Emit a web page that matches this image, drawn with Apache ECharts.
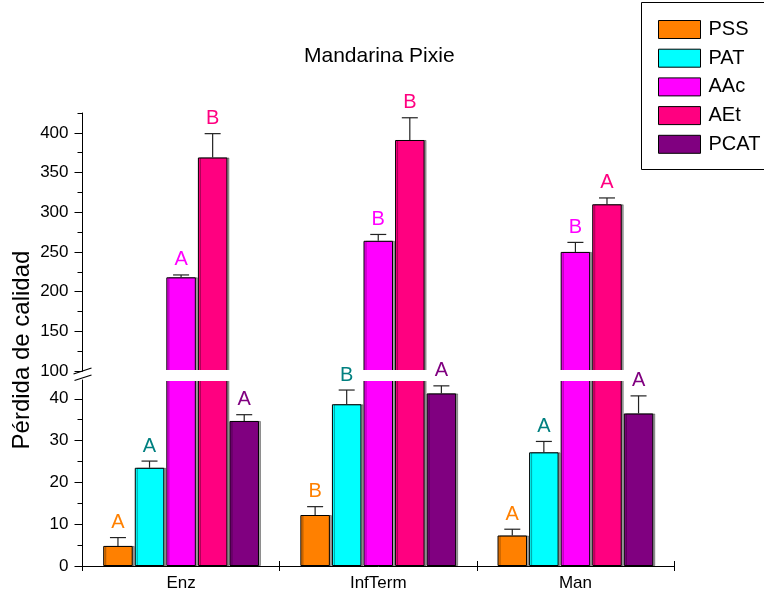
<!DOCTYPE html>
<html><head><meta charset="utf-8">
<script src="https://cdn.jsdelivr.net/npm/echarts@6/dist/echarts.min.js"></script>
<style>html,body{margin:0;padding:0;background:#fff}#c{width:764px;height:594px}</style>
</head><body><div id="c"></div>
<script>
const categories = ['Enz', 'InfTerm', 'Man'];
const seriesNames = ['PSS', 'PAT', 'AAc', 'AEt', 'PCAT'];
const PSS = [4.8, 12.2, 7.3];
const PSS_err = [2.0, 2.0, 1.5];
const PAT = [23.5, 38.7, 27.2];
const PAT_err = [1.6, 3.4, 2.6];
const AAc = [218, 264, 250];
const AAc_err = [3, 8, 12];
const AEt = [369, 391, 310];
const AEt_err = [30, 28, 8];
const PCAT = [34.7, 41.3, 36.5];
const PCAT_err = [1.5, 1.8, 4.2];
const PSS_letters = ['A', 'B', 'A'];
const PAT_letters = ['A', 'B', 'A'];
const AAc_letters = ['A', 'B', 'B'];
const AEt_letters = ['B', 'B', 'A'];
const PCAT_letters = ['A', 'A', 'A'];
const upperTickLabels = [100, 150, 200, 250, 300, 350, 400];
const upperMinorTicks = [125, 175, 225, 275, 325, 375, 425];
const lowerTickLabels = [0, 10, 20, 30, 40];
const lowerMinorTicks = [5, 15, 25, 35];
const upperMin = 100, upperMax = 425, lowerMin = 0, lowerMax = 44.5;

const values = [PSS, PAT, AAc, AEt, PCAT];
const errs = [PSS_err, PAT_err, AAc_err, AEt_err, PCAT_err];
const letters = [PSS_letters, PAT_letters, AAc_letters, AEt_letters, PCAT_letters];
const colors = ['#FF8000', '#00FFFF', '#FF00FF', '#FF0080', '#800080'];
const letterColors = ['#FF8000', '#008080', '#FF00FF', '#FF0080', '#800080'];
const FONT = 'Liberation Sans';
const BAR_W = 29.5, BAR_GAP = 0.07;
const STEP = BAR_W * (1 + BAR_GAP);

const chart = echarts.init(document.getElementById('c'), null, {renderer: 'canvas'});

function yAxisPair(grid, min, max, labels, minors) {
  return [
    {gridIndex: grid, type: 'value', min: min, max: max, position: 'left',
     axisLine: {show: true, lineStyle: {color: '#000', width: 1}},
     axisTick: {show: true, customValues: labels, length: 8, inside: false, lineStyle: {color: '#000'}},
     axisLabel: {show: true, customValues: labels, fontSize: 17, color: '#000', fontFamily: FONT, margin: 14},
     splitLine: {show: false}},
    {gridIndex: grid, type: 'value', min: min, max: max, position: 'left', offset: 0,
     axisLine: {show: false},
     axisTick: {show: true, customValues: minors, length: 5, inside: false, lineStyle: {color: '#000'}},
     axisLabel: {show: false}, splitLine: {show: false}}
  ];
}

const barStyle = s => ({color: colors[s], borderColor: '#000', borderWidth: 1,
  shadowColor: 'rgba(0,0,0,0.35)', shadowOffsetX: 2, shadowOffsetY: 0, shadowBlur: 0});

const series = [];
seriesNames.forEach((n, s) => {
  series.push({
    name: n, type: 'bar', xAxisIndex: 0, yAxisIndex: 0,
    barWidth: BAR_W, barGap: (BAR_GAP * 100) + '%',
    data: values[s].map(v => v > lowerMax ? v : null),
    itemStyle: barStyle(s), clip: true
  });
});
seriesNames.forEach((n, s) => {
  series.push({
    name: n, type: 'bar', xAxisIndex: 1, yAxisIndex: 2,
    barWidth: BAR_W, barGap: (BAR_GAP * 100) + '%',
    data: values[s].slice(),
    itemStyle: barStyle(s), clip: true
  });
});

function errData(upper) {
  const out = [];
  values.forEach((arr, s) => arr.forEach((v, c) => {
    if ((v > lowerMax) === upper) out.push([c, v, errs[s][c], s]);
  }));
  return out;
}
function renderErr(params, api) {
  const c = api.value(0), v = api.value(1), e = api.value(2), s = api.value(3);
  const base = api.coord([c, v]);
  const top = api.coord([c, v + e]);
  const x = base[0] + (s - 2) * STEP;
  const st = {stroke: '#222', lineWidth: 1.2};
  return {type: 'group', children: [
    {type: 'line', shape: {x1: x, y1: base[1], x2: x, y2: top[1]}, style: st},
    {type: 'line', shape: {x1: x - 8, y1: top[1], x2: x + 8, y2: top[1]}, style: st},
    {type: 'text', x: x, y: top[1] - 5, style: {text: letters[s][c], fill: letterColors[s],
      font: '20px "' + FONT + '"', textAlign: 'center', textVerticalAlign: 'bottom'}}
  ]};
}
series.push({type: 'custom', xAxisIndex: 0, yAxisIndex: 0, data: errData(true), renderItem: renderErr, encode: {x: 0, y: 1}, z: 10, clip: false, silent: true});
series.push({type: 'custom', xAxisIndex: 1, yAxisIndex: 2, data: errData(false), renderItem: renderErr, encode: {x: 0, y: 1}, z: 10, clip: false, silent: true});

const option = {
  animation: false,
  backgroundColor: '#fff',
  textStyle: {fontFamily: FONT},
  title: {text: 'Mandarina Pixie', left: 299, top: 41,
    textStyle: {fontSize: 21, fontWeight: 'normal', color: '#000', fontFamily: FONT}},
  legend: {data: seriesNames, orient: 'vertical', left: 653, top: 14.5,
    itemWidth: 42, itemHeight: 18, itemGap: 8.7, icon: 'rect',
    itemStyle: {borderColor: '#000', borderWidth: 1, shadowBlur: 0, shadowOffsetX: 0, shadowColor: 'rgba(0,0,0,0)'},
    textStyle: {fontSize: 20, color: '#000', fontFamily: FONT, padding: [0, 0, 0, 3], lineHeight: 18}},
  grid: [
    {left: 82.5, right: 90, top: 113, height: 258},
    {left: 82.5, right: 90, top: 380, height: 186}
  ],
  xAxis: [
    {gridIndex: 0, type: 'category', data: categories, show: false},
    {gridIndex: 1, type: 'category', data: categories, position: 'bottom',
     axisLine: {show: true, lineStyle: {color: '#000', width: 1}},
     axisTick: {show: true, length: 5, inside: false, lineStyle: {color: '#000'}},
     axisLabel: {fontSize: 17, color: '#000', fontFamily: FONT, margin: 9}},
    {gridIndex: 1, type: 'category', data: categories, position: 'bottom', offset: 0,
     axisLine: {show: false}, axisTick: {show: true, length: 5, inside: true, lineStyle: {color: '#000'}},
     axisLabel: {show: false}}
  ],
  yAxis: [].concat(
    yAxisPair(0, upperMin, upperMax, upperTickLabels, upperMinorTicks),
    yAxisPair(1, lowerMin, lowerMax, lowerTickLabels, lowerMinorTicks)
  ),
  series: series
};
chart.setOption(option);

// decorations: legend frame, y-axis title, axis break gap and marks
const rectUp = chart.getModel().getComponent('grid', 0).coordinateSystem.getRect();
const axX = rectUp.x;
const yUp = chart.convertToPixel({yAxisIndex: 0}, upperMin);
const yLow = chart.convertToPixel({yAxisIndex: 2}, lowerMax);
chart.setOption({graphic: [
  {type: 'rect', shape: {x: 641.5, y: 2.5, width: 140, height: 167}, style: {fill: 'none', stroke: '#000', lineWidth: 1}, z: -1},
  {type: 'rect', shape: {x: axX + 1, y: yUp - 1, width: rectUp.width - 1, height: yLow - yUp + 2}, style: {fill: '#fff'}, z: 5},
  {type: 'text', x: 22, y: 350, rotation: Math.PI / 2,
   style: {text: 'Pérdida de calidad', font: '24px "' + FONT + '"', fill: '#000', textAlign: 'center', textVerticalAlign: 'middle'}},
  {type: 'line', shape: {x1: axX - 9, y1: yUp + 3, x2: axX + 9, y2: yUp - 3}, style: {stroke: '#000', lineWidth: 1.3}, z: 6},
  {type: 'line', shape: {x1: axX - 8, y1: yLow + 0.5, x2: axX + 9, y2: yLow - 5}, style: {stroke: '#000', lineWidth: 1.3}, z: 6}
]});
</script>
</body></html>
